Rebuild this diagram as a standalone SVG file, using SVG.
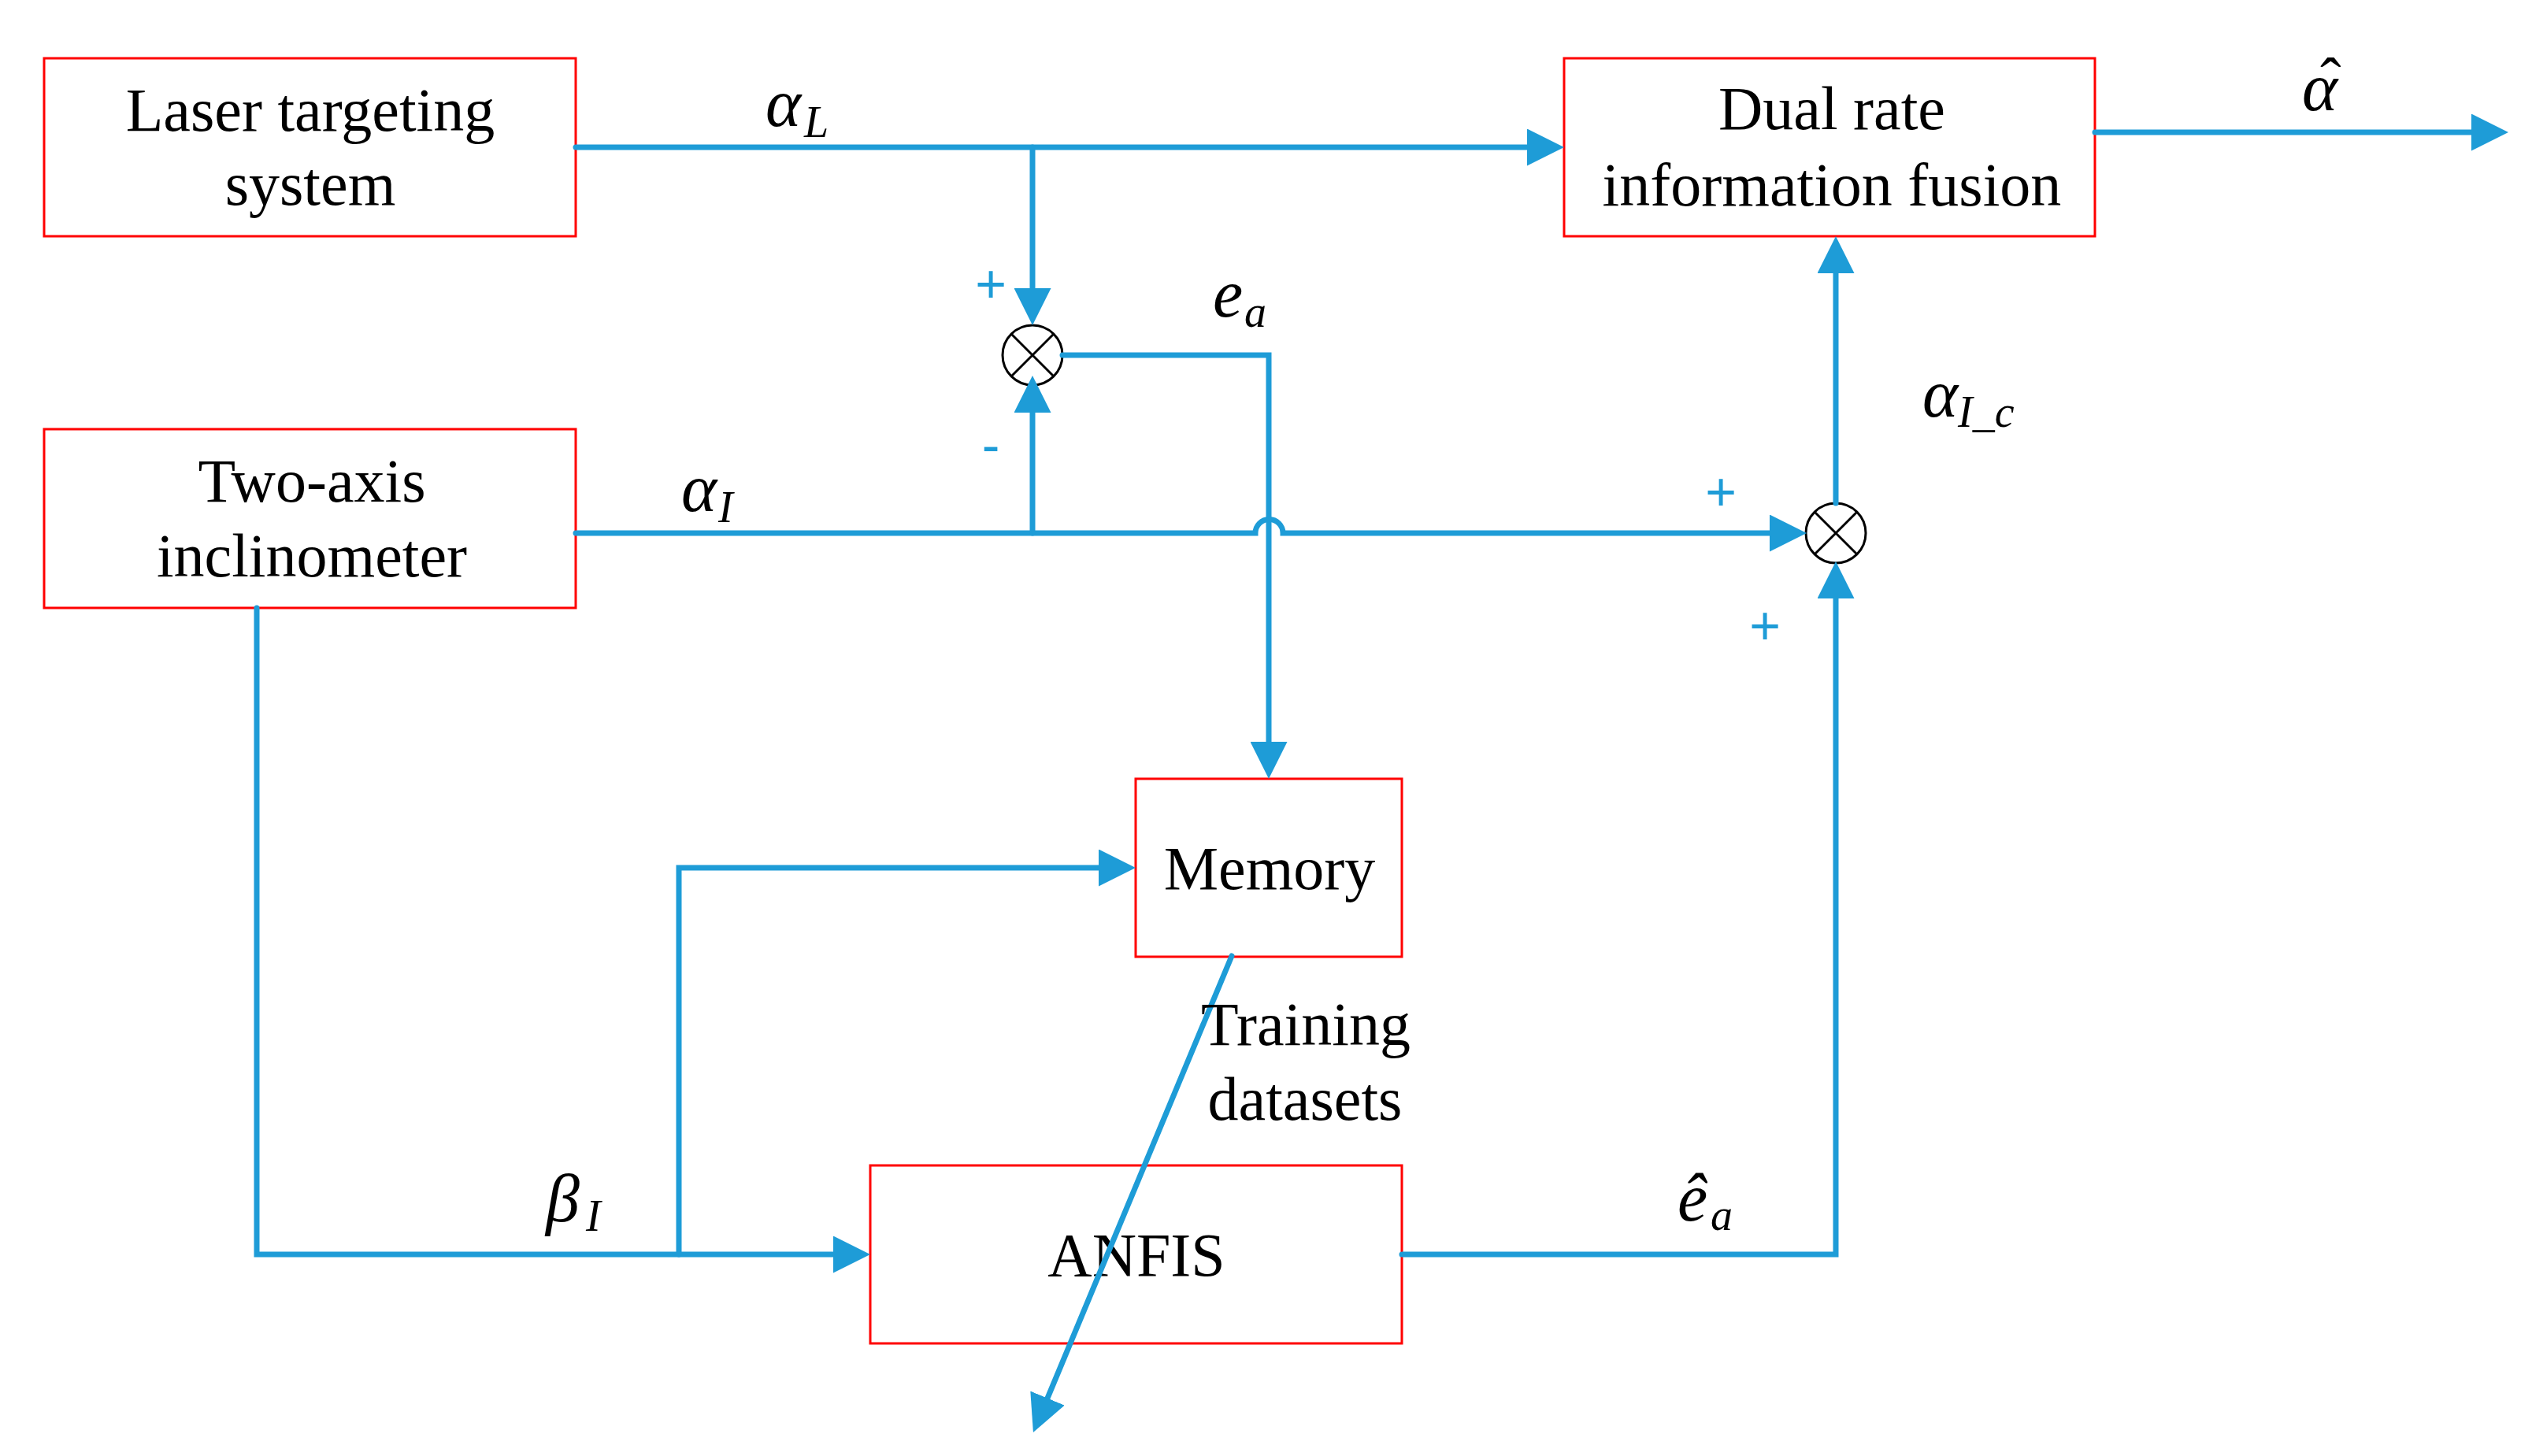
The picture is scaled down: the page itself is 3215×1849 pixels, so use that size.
<svg xmlns="http://www.w3.org/2000/svg" width="3215" height="1849" viewBox="0 0 3215 1849">
<style>
.box{fill:#fff;stroke:#ff0000;stroke-width:3}
.lbl{font-family:"Liberation Serif","Times New Roman",serif;font-size:78px;fill:#000;text-anchor:middle}
.math{font-family:"Liberation Serif","Times New Roman",serif;font-style:italic;font-size:86px;fill:#000}
.sub{font-size:56px}
.hat{font-style:normal;font-size:80px}
.sign{font-family:"Liberation Sans",Arial,sans-serif;font-size:68px;fill:#1e9cd7;text-anchor:middle}
.sum{fill:#fff;stroke:#000;stroke-width:3}
.conn{fill:none;stroke:#1e9cd7;stroke-width:7;stroke-linecap:round;stroke-linejoin:miter}
</style>
<defs>
<marker id="arr" markerUnits="userSpaceOnUse" viewBox="0 0 47 47" markerWidth="47" markerHeight="47" refX="0" refY="23.5" orient="auto">
<path d="M0,0 L47,23.5 L0,47 Z" fill="#1e9cd7"/>
</marker>
</defs>
<rect width="3215" height="1849" fill="#fff"/>

<g id="laser">
<rect class="box" x="56" y="74" width="675" height="226"/>
<text class="lbl" x="394" y="166">Laser targeting</text>
<text class="lbl" x="394" y="260">system</text>
</g>
<g id="inclinometer">
<rect class="box" x="56" y="545" width="675" height="227"/>
<text class="lbl" x="396" y="637">Two-axis</text>
<text class="lbl" x="396" y="732">inclinometer</text>
</g>
<g id="fusion">
<rect class="box" x="1986" y="74" width="674" height="226"/>
<text class="lbl" x="2326" y="164">Dual rate</text>
<text class="lbl" x="2326" y="261">information fusion</text>
</g>
<g id="memory">
<rect class="box" x="1442" y="989" width="338" height="226"/>
<text class="lbl" x="1612" y="1129">Memory</text>
</g>
<g id="anfis">
<rect class="box" x="1105" y="1480" width="675" height="226"/>
<text class="lbl" x="1443" y="1620">ANFIS</text>
</g>
<g id="sum1">
<circle class="sum" cx="1311" cy="451" r="38"/>
<path d="M1284,424 L1338,478 M1338,424 L1284,478" stroke="#000" stroke-width="3"/>
</g>
<g id="sum2">
<circle class="sum" cx="2331" cy="677" r="38"/>
<path d="M2304,650 L2358,704 M2358,650 L2304,704" stroke="#000" stroke-width="3"/>
</g>

<g id="connectors" class="conn">
<path class="conn" d="M731,187 H1939" marker-end="url(#arr)"/>
<path class="conn" d="M1311,187 V366" marker-end="url(#arr)"/>
<path class="conn" d="M731,677 H1594 A17.5,17.5 0 0 1 1629,677 H2247" marker-end="url(#arr)"/>
<path class="conn" d="M1311,677 V524" marker-end="url(#arr)"/>
<path class="conn" d="M1349,451 H1611 V942" marker-end="url(#arr)"/>
<path class="conn" d="M326,772 V1593 H1058" marker-end="url(#arr)"/>
<path class="conn" d="M862,1593 V1102 H1395" marker-end="url(#arr)"/>
<path class="conn" d="M1564,1214 L1330,1775.6" marker-end="url(#arr)"/>
<path class="conn" d="M1780,1593 H2331 V760" marker-end="url(#arr)"/>
<path class="conn" d="M2331,639 V347" marker-end="url(#arr)"/>
<path class="conn" d="M2660,168 H3138" marker-end="url(#arr)"/>
</g>

<g id="labels">
<text class="math" x="972" y="160">α<tspan class="sub" x="1021" y="174">L</tspan></text>
<text class="math" x="865" y="649">α<tspan class="sub" x="912" y="663">I</tspan></text>
<text class="math" x="1540" y="402">e<tspan class="sub" x="1580" y="415">a</tspan></text>
<text class="math" x="2441" y="529">α<tspan class="sub" x="2486" y="542">I_c</tspan></text>
<text class="math" x="2923" y="140">α<tspan class="hat" x="2946" y="129">ˆ</tspan></text>
<text class="math" x="2130" y="1550">ê<tspan class="sub" x="2172" y="1562">a</tspan></text>
<text class="math" x="693" y="1551">β<tspan class="sub" x="744" y="1563">I</tspan></text>
<text class="lbl" x="1658" y="1327">Training</text>
<text class="lbl" x="1657" y="1422">datasets</text>
<text class="sign" x="1258" y="384">+</text>
<text class="sign" x="1258" y="589">-</text>
<text class="sign" x="2185" y="648">+</text>
<text class="sign" x="2241" y="818">+</text>
</g>
</svg>
